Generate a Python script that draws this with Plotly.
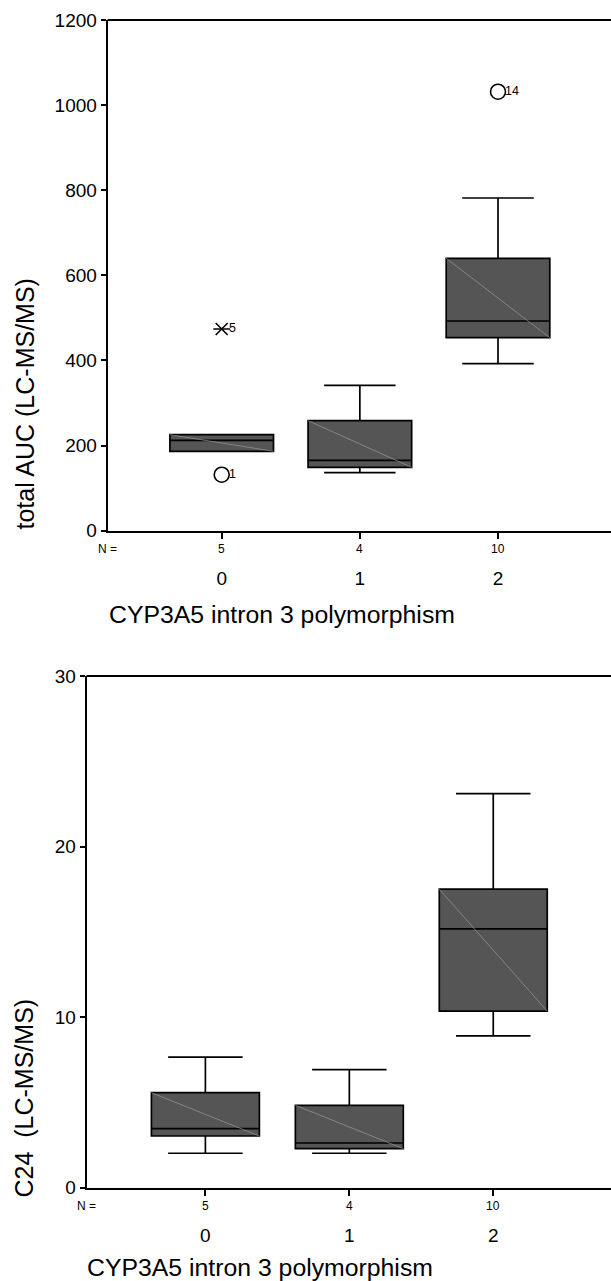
import plotly.graph_objects as go

# ---------------- data ----------------
categories = [0, 1, 2]
cat_labels = ["0", "1", "2"]
n_counts = ["5", "4", "10"]

# total AUC (LC-MS/MS) box statistics
auc_q1 = [186.6, 149.0, 453.5]
auc_med = [212.4, 165.4, 492.7]
auc_q3 = [225.6, 258.5, 640.0]
auc_lo = [186.6, 136.3, 392.4]
auc_hi = [225.6, 341.6, 781.7]
# outliers (circle) and extremes (star)
auc_out_x = [0, 2]
auc_out_y = [131.6, 1031.5]
auc_out_lab = ["1", "14"]
auc_ext_x = [0]
auc_ext_y = [474.0]
auc_ext_lab = ["5"]

# C24 (LC-MS/MS) box statistics
c24_q1 = [3.03, 2.29, 10.35]
c24_med = [3.46, 2.62, 15.17]
c24_q3 = [5.57, 4.83, 17.5]
c24_lo = [2.02, 2.02, 8.9]
c24_hi = [7.65, 6.92, 23.1]

auc_ticks = [0, 200, 400, 600, 800, 1000, 1200]
c24_ticks = [0, 10, 20, 30]

x_title = "CYP3A5 intron 3 polymorphism"
y_title_top = "total AUC (LC-MS/MS)"
y_title_bot = "C24\u00a0 (LC-MS/MS)"

# ---------------- style ----------------
FONT = "Arial, Liberation Sans, sans-serif"
BOX_W = 0.75
FILL = "#555555"
W, H = 611, 1281

fig = go.Figure()


def add_panel(q1, med, q3, lo, hi, xa, ya):
    for i, c in enumerate(categories):
        fig.add_trace(go.Box(
            x=[c], q1=[q1[i]], median=[med[i]], q3=[q3[i]],
            lowerfence=[lo[i]], upperfence=[hi[i]],
            width=BOX_W, whiskerwidth=0.69, boxpoints=False,
            fillcolor=FILL, line=dict(color="black", width=1.7),
            xaxis=xa, yaxis=ya, showlegend=False, hoverinfo="skip"))
        # faint SPSS-style diagonal inside the box
        fig.add_trace(go.Scatter(
            x=[c - BOX_W / 2, c + BOX_W / 2], y=[q3[i], q1[i]],
            mode="lines", line=dict(color="#9a9a9a", width=0.7),
            xaxis=xa, yaxis=ya, showlegend=False, hoverinfo="skip"))


add_panel(auc_q1, auc_med, auc_q3, auc_lo, auc_hi, "x", "y")
add_panel(c24_q1, c24_med, c24_q3, c24_lo, c24_hi, "x2", "y2")

# outliers top panel
fig.add_trace(go.Scatter(
    x=auc_out_x, y=auc_out_y, mode="markers",
    marker=dict(symbol="circle-open", size=15, color="black",
                line=dict(color="black", width=1.6)),
    xaxis="x", yaxis="y", showlegend=False, hoverinfo="skip"))
for sym in ["x-thin-open", "line-ew-open"]:
    fig.add_trace(go.Scatter(
        x=auc_ext_x, y=auc_ext_y, mode="markers",
        marker=dict(symbol=sym, size=12, color="black",
                    line=dict(color="black", width=1.6)),
        xaxis="x", yaxis="y", showlegend=False, hoverinfo="skip"))

annotations = []
for xs, ys, labs in [(auc_out_x, auc_out_y, auc_out_lab),
                     (auc_ext_x, auc_ext_y, auc_ext_lab)]:
    for xv, yv, lab in zip(xs, ys, labs):
        annotations.append(dict(
            x=xv, y=yv, xref="x", yref="y", text=lab, showarrow=False,
            xanchor="left", yanchor="middle", xshift=5, yshift=1,
            font=dict(family=FONT, size=12.5, color="black")))

# N = row
for xa, ya in [("x", "y"), ("x2", "y2")]:
    annotations.append(dict(
        x=0, y=0, xref=xa + " domain", yref=ya + " domain",
        text="N =", showarrow=False, xanchor="center", yanchor="middle",
        yshift=-18, font=dict(family=FONT, size=12, color="black")))
    for c, n in zip(categories, n_counts):
        annotations.append(dict(
            x=c, y=0, xref=xa, yref=ya + " domain", text=n, showarrow=False,
            xanchor="center", yanchor="middle", yshift=-18,
            font=dict(family=FONT, size=12, color="black")))

# axis titles
annotations.append(dict(
    x=0, y=1 - 614.5 / H, xref="x domain", yref="paper", text=x_title,
    showarrow=False, xanchor="left", yanchor="middle", xshift=-1,
    font=dict(family=FONT, size=24.8, color="black")))
annotations.append(dict(
    x=0, y=1 - 1267 / H, xref="x2 domain", yref="paper", text=x_title,
    showarrow=False, xanchor="left", yanchor="middle", xshift=-2,
    font=dict(family=FONT, size=24.8, color="black")))
annotations.append(dict(
    x=24 / W, y=1 - 404.5 / H, xref="paper", yref="paper", text=y_title_top,
    textangle=-90, showarrow=False, xanchor="center", yanchor="middle",
    font=dict(family=FONT, size=25, color="black")))
annotations.append(dict(
    x=23 / W, y=1 - 1098.5 / H, xref="paper", yref="paper", text=y_title_bot,
    textangle=-90, showarrow=False, xanchor="center", yanchor="middle",
    font=dict(family=FONT, size=25, color="black")))

# frame: top line of each panel; right side left open (cut off in original)
shapes = []
for xa, ya in [("x", "y"), ("x2", "y2")]:
    shapes.append(dict(type="line", xref=xa + " domain", yref=ya + " domain",
                       x0=1, x1=1, y0=0.004, y1=0.996, layer="above",
                       line=dict(color="white", width=4)))
    shapes.append(dict(type="line", xref=xa + " domain", yref=ya + " domain",
                       x0=0, x1=1, y0=1, y1=1, layer="above",
                       line=dict(color="black", width=1.8)))

xcommon = dict(range=[-0.826, 2.818], tickmode="array", tickvals=categories,
               ticktext=cat_labels, ticks="outside", ticklen=6, tickwidth=1.5,
               tickcolor="black", showline=True, linecolor="black",
               linewidth=1.8, mirror=False, showgrid=False, zeroline=False,
               ticklabelstandoff=24, automargin=False,
               tickfont=dict(family=FONT, size=19, color="black"))
ycommon = dict(ticks="outside", ticklen=5, tickwidth=1.5, tickcolor="black",
               showline=True, linecolor="black", linewidth=1.8, mirror=False,
               showgrid=False, zeroline=False, automargin=False,
               tickfont=dict(family=FONT, size=19, color="black"))

fig.update_layout(
    width=W, height=H, margin=dict(l=0, r=0, t=0, b=0, autoexpand=False),
    paper_bgcolor="white", plot_bgcolor="white",
    xaxis=dict(domain=[107.6 / W, 1], anchor="y", **xcommon),
    yaxis=dict(domain=[1 - 530.7 / H, 1 - 20 / H], anchor="x",
               range=[0, 1200], tickvals=auc_ticks, **ycommon),
    xaxis2=dict(domain=[86.5 / W, 1], anchor="y2", **xcommon),
    yaxis2=dict(domain=[1 - 1187.7 / H, 1 - 676 / H], anchor="x2",
                range=[0, 30], tickvals=c24_ticks, **ycommon),
    annotations=annotations,
    shapes=shapes,
    showlegend=False,
)

fig.write_html(
    "out.html",
    config={"displayModeBar": False},
    post_script="document.body.style.margin='0';"
                "document.body.style.overflow='hidden';")
